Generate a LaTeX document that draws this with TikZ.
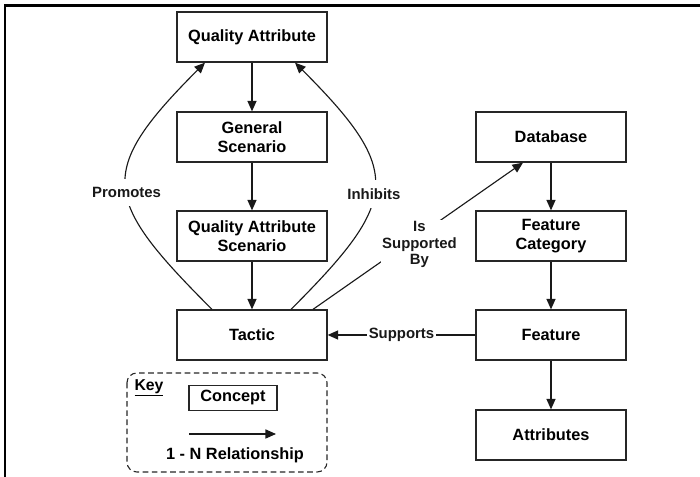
\documentclass[tikz,border=0pt]{standalone}
\usepackage{fontspec}
\setmainfont{Liberation Sans}
\usetikzlibrary{arrows.meta, calc}

\begin{document}
\begin{tikzpicture}[x=0.025cm, y=-0.025cm,
    concepto/.style={draw=black!85, line width=0.9pt, minimum width=3.75cm, minimum height=1.25cm, inner sep=1pt, align=center, font=\bfseries\fontsize{11.6}{13.5}\selectfont},
    rel/.style={-{Triangle[length=7.5pt,width=6.5pt]}, line width=0.8pt, black!90},
    etiqueta/.style={fill=white, inner xsep=1pt, inner ysep=6pt, align=center, font=\bfseries\fontsize{10.6}{11.8}\selectfont}]
        \useasboundingbox (0,0) rectangle (700,477);

        % Marco
        \draw[line width=1.5pt] (5,477) -- (5,5.5) -- (700,5.5);

        % Conceptos
        \node[concepto] (qa) at (252,37) {Quality Attribute};
        \node[concepto] (gs) at (252,137) {General\\Scenario};
        \node[concepto] (qas) at (252,236) {Quality Attribute\\Scenario};
        \node[concepto] (tactic) at (252,335) {Tactic};
        \node[concepto] (db) at (551,137) {Database};
        \node[concepto] (fc) at (551,236) {Feature\\Category};
        \node[concepto] (feat) at (551,335) {Feature};
        \node[concepto] (attr) at (551,435) {Attributes};

        % Relaciones
        \draw[rel] (qa) -- (gs);
        \draw[rel] (gs) -- (qas);
        \draw[rel] (qas) -- (tactic);
        \draw[rel] (db) -- (fc);
        \draw[rel] (fc) -- (feat);
        \draw[rel] (feat) -- (attr);
        \draw[rel] (feat) -- node[etiqueta] {Supports} (tactic);
        \draw[rel] ($(tactic.north)+(-40,0)$) .. controls +(-110,-110) and +(-110,110) .. node[etiqueta, pos=0.47] {Promotes} ($(qa.south)+(-47,0)$);
        \draw[rel] ($(tactic.north)+(39,0)$) .. controls +(109,-109) and +(109,109) .. node[etiqueta, pos=0.46] {Inhibits} ($(qa.south)+(43,0)$);
        \draw[rel] ($(tactic.north)+(61,0)$) -- node[etiqueta, inner ysep=1pt, pos=0.44, xshift=10pt] {Is\\Supported\\By} ($(db.south)+(-28,0)$);

        % Leyenda
        \draw[dashed, dash pattern=on 4pt off 2.5pt, rounded corners=7pt, line width=0.8pt, black!85] (127,373) rectangle (327,472);
        \node[font=\bfseries\fontsize{11.2}{13}\selectfont] (key) at (149,388) {\underline{Key}};
        \node[concepto, minimum width=2.2cm, minimum height=0.625cm] (concept) at (233,398) {Concept};
        \coordinate (k1) at (189,434);
        \coordinate (k2) at (276,434);
        \draw[rel] (k1) -- (k2);
        \node[font=\bfseries\fontsize{11.6}{13.5}\selectfont] (nrel) at (235,455) {1 - N Relationship};
    \end{tikzpicture}
\end{document}
